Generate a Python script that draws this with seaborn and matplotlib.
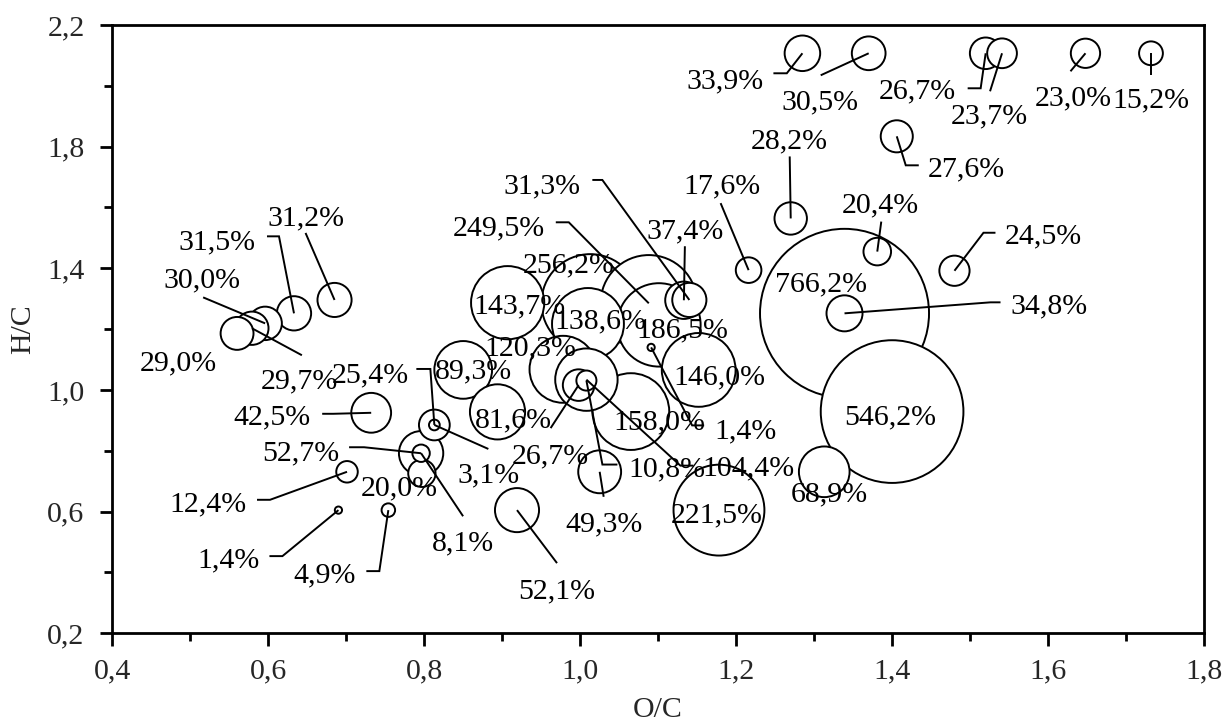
import numpy as np
import pandas as pd
import matplotlib
matplotlib.use("Agg")
import matplotlib.pyplot as plt
import matplotlib.transforms as mtransforms
from matplotlib.ticker import MultipleLocator, FuncFormatter
import seaborn as sns

# ---------------- data ----------------
oc = [1.285, 1.370, 1.520, 1.541, 1.648, 1.732, 1.406, 1.270, 1.216, 1.381,
      1.480, 1.339, 1.339, 1.400, 1.313, 1.178, 1.152, 1.091, 1.101, 1.088,
      1.133, 1.140, 1.013, 1.010, 0.907, 0.978, 1.008, 1.008, 0.998, 0.850,
      0.894, 1.065, 1.025, 0.919, 0.813, 0.813, 0.796, 0.796, 0.797, 0.732,
      0.701, 0.690, 0.754, 0.685, 0.633, 0.596, 0.579, 0.560]
hc = [2.107, 2.107, 2.107, 2.107, 2.107, 2.107, 1.834, 1.564, 1.394, 1.455,
      1.392, 1.252, 1.252, 0.929, 0.731, 0.605, 1.066, 1.140, 1.214, 1.285,
      1.295, 1.296, 1.286, 1.217, 1.287, 1.068, 1.034, 1.031, 1.016, 1.066,
      0.928, 0.929, 0.731, 0.605, 0.885, 0.885, 0.792, 0.792, 0.726, 0.925,
      0.731, 0.605, 0.605, 1.296, 1.252, 1.219, 1.203, 1.186]
share = [33.9, 30.5, 26.7, 23.7, 23.0, 15.2, 27.6, 28.2, 17.6, 20.4,
         24.5, 766.2, 34.8, 546.2, 68.9, 221.5, 146.0, 1.4, 186.5, 249.5,
         37.4, 31.3, 256.2, 138.6, 143.7, 120.3, 104.4, 10.8, 26.7, 89.3,
         81.6, 158.0, 49.3, 52.1, 25.4, 3.1, 52.7, 8.1, 20.0, 42.5,
         12.4, 1.4, 4.9, 31.2, 31.5, 30.0, 29.7, 29.0]

# ---------------- label layout (pixel offsets from bubble centre, y down) ----------------
label_dx = [-77, -49, -68, -13, -12, 0, 70, -1, -27, 3,
            89, -24, 204, -2, 5, -2, 21, 94, 23, -150,
            1, -147, -22, 12, 12, -33, 162, 80, -28, 10,
            16, 28, 4, 40, -64, 54, -120, 42, -23, -99,
            -139, -110, -64, -29, -77, -63, 47, -59]
label_dy = [25, 46, 35, 60, 42, 44, 30, -80, -87, -49,
            -37, -32, -10, 3, 20, 2, 4, 81, 2, -78,
            -72, -117, -41, -6, 1, -24, 86, 86, 68, -2,
            5, 8, 50, 78, -53, 47, -3, 87, 12, 2,
            30, 47, 62, -85, -74, -46, 50, 27]
leaders = {
    0: [(-29, 20), (-15.6, 20)],
    1: [(-48, 22)],
    2: [(-18, 35), (-5, 35)],
    3: [(-12, 38)],
    4: [(-15, 18)],
    5: [(0, 22)],
    6: [(22, 29), (9, 29)],
    7: [(-1, -62)],
    8: [(-28, -67)],
    9: [(4, -30)],
    10: [(41, -38), (29, -38)],
    12: [(156, -11), (146, -11)],
    17: [(53, 78), (41, 78)],
    19: [(-93, -81), (-80, -81)],
    20: [(1, -54)],
    21: [(-97, -120), (-87, -120)],
    26: [(107, 86), (94, 86)],
    27: [(31, 84), (16, 84)],
    28: [(-28, 43)],
    32: [(4, 25)],
    33: [(40, 53)],
    34: [(-18, -56), (-4, -56)],
    35: [(54, 24)],
    36: [(-72, -6), (-57, -6)],
    37: [(42, 63)],
    39: [(-49, 1), (-38, 1)],
    40: [(-90, 28), (-77, 28)],
    41: [(-69, 46), (-56, 46)],
    42: [(-22, 61), (-9, 61)],
    43: [(-29, -67)],
    44: [(-27, -77), (-15, -77)],
    45: [(-62, -26)],
    46: [(50, 27)],
}

# ---------------- figure ----------------
DPI = 100
W, H = 1226, 724
sns.set_style("white")
plt.rcParams["font.family"] = ["Liberation Serif", "DejaVu Serif"]
FS = 21.5
LW = 1.4

fig = plt.figure(figsize=(W / DPI, H / DPI), dpi=DPI)
L, R, T, B = 112.3, 1204.0, 25.0, 633.3
ax = fig.add_axes([L / W, (H - B) / H, (R - L) / W, (B - T) / H])

df = pd.DataFrame({"OC": oc, "HC": hc, "share": share})
plot_df = df.sort_values("share", ascending=False)

DMAX_PX = 169.0
k = (DMAX_PX * 72.0 / DPI) ** 2 / max(share)
vmin, vmax = min(share), max(share)
sns.scatterplot(data=plot_df, x="OC", y="HC", size="share",
                sizes=(vmin * k, vmax * k), size_norm=(vmin, vmax),
                color="white", edgecolor="black", linewidth=LW,
                legend=False, ax=ax, zorder=2)

# leader lines
for i, pts in leaders.items():
    path = list(pts) + [(0.0, 0.0)]
    xs = [p[0] for p in path]
    ys = [p[1] for p in path]
    tr = mtransforms.Affine2D().scale(1, -1) + mtransforms.ScaledTranslation(oc[i], hc[i], ax.transData)
    ax.plot(xs, ys, transform=tr, color="black", lw=LW, zorder=3,
            solid_capstyle="butt", solid_joinstyle="miter", clip_on=False)

# data labels
TEXT_SHIFT = 3
for i, v in enumerate(share):
    lbl = f"{v:.1f}".replace(".", ",") + "%"
    ax.annotate(lbl, xy=(oc[i], hc[i]), xytext=(label_dx[i], -(label_dy[i] + TEXT_SHIFT)),
                textcoords="offset pixels", ha="center", va="center",
                fontsize=FS, color="black", zorder=4, annotation_clip=False)

# axes
ax.set_xlim(0.4, 1.8)
ax.set_ylim(0.2, 2.2)
fmt = FuncFormatter(lambda v, p: f"{v:.1f}".replace(".", ","))
ax.xaxis.set_major_locator(MultipleLocator(0.2))
ax.xaxis.set_minor_locator(MultipleLocator(0.1))
ax.yaxis.set_major_locator(MultipleLocator(0.4, offset=0.2))
ax.yaxis.set_minor_locator(MultipleLocator(0.2))
ax.xaxis.set_major_formatter(fmt)
ax.yaxis.set_major_formatter(fmt)
ax.tick_params(which="both", direction="out", width=2, color="black",
               top=False, right=False, left=True, bottom=True)
ax.tick_params(which="major", length=9, labelsize=FS)
ax.tick_params(which="minor", length=6)
ax.tick_params(axis="x", which="major", pad=9)
ax.tick_params(axis="y", which="major", pad=11)
for s in ax.spines.values():
    s.set_visible(True)
    s.set_color("black")
    s.set_linewidth(2)
ax.grid(False)

ax.set_xlabel("O/C", fontsize=FS)
ax.set_ylabel("H/C", fontsize=FS)
ax.xaxis.set_label_coords(0.5, (B - 710) / (B - T))
ax.xaxis.label.set_va("center")
ax.yaxis.set_label_coords((23 - L) / (R - L), 0.5)
ax.yaxis.label.set_va("center")
ax.yaxis.label.set_ha("center")

fig.savefig("out.png", dpi=DPI)
